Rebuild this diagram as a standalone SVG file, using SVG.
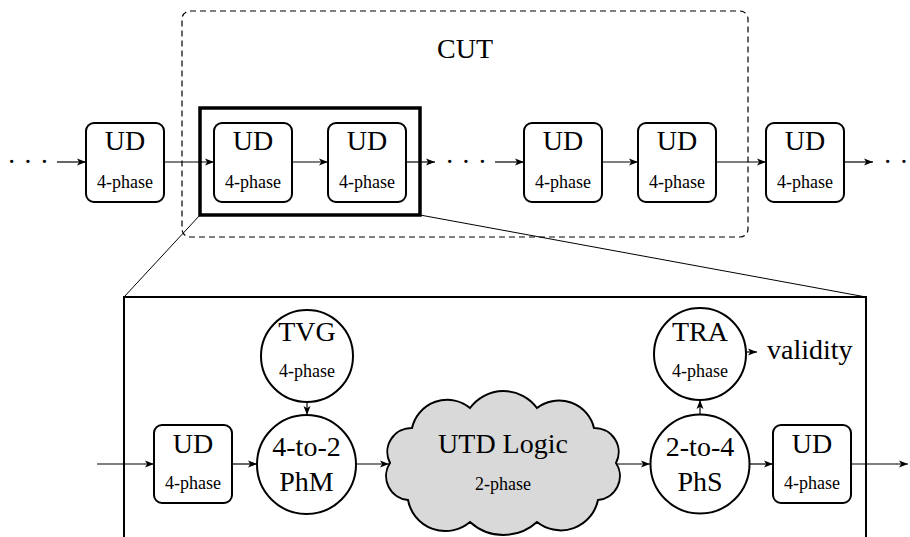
<svg xmlns="http://www.w3.org/2000/svg" width="910" height="537" viewBox="0 0 910 537" font-family="'Liberation Serif', 'DejaVu Serif', serif">
  <defs>
    <marker id="arr" viewBox="0 0 10 8" refX="9" refY="4" markerWidth="10" markerHeight="8" markerUnits="userSpaceOnUse" orient="auto">
      <path d="M0,0.5 L9,4 L0,7.5 L2.2,4 Z" fill="#000"/>
    </marker>
  </defs>
  <style>
    text { fill: #000; text-anchor: middle; }
    .big { font-size: 28px; }
    .small { font-size: 18px; }
    .box { fill: #fff; stroke: #000; stroke-width: 2; }
    .circ { fill: #fff; stroke: #000; stroke-width: 2; }
    .wire { fill: none; stroke: #000; stroke-width: 1.2; }
    .arrow { marker-end: url(#arr); }
    .dots { font-size: 28px; text-anchor: start; }
  </style>

  <rect width="910" height="537" fill="#fff"/>

  <!-- circuit-under-test boundary -->
  <g id="cut">
    <rect x="182" y="11" width="566" height="226" rx="8" fill="none" stroke="#000" stroke-width="1.2" stroke-dasharray="6,4"/>
    <text class="big" x="465" y="58">CUT</text>
  </g>

  <!-- magnified region and its projection lines -->
  <g id="zoom">
    <rect x="200" y="108" width="220" height="107" fill="none" stroke="#000" stroke-width="3.5"/>
    <path d="M200,215 L124,297 M420,215 L866,297" fill="none" stroke="#000" stroke-width="1"/>
    <path d="M124,540 L124,297 L866,297 L866,540" fill="none" stroke="#000" stroke-width="2"/>
  </g>

  <!-- connectors -->
  <g id="connectors">
    <!-- top pipeline -->
    <path class="wire arrow" d="M57,162 L86,162"/>
    <path class="wire arrow" d="M164,162 L214,162"/>
    <path class="wire arrow" d="M292,162 L328,162"/>
    <path class="wire arrow" d="M406,162 L435,162"/>
    <path class="wire arrow" d="M495,162 L524,162"/>
    <path class="wire arrow" d="M602,162 L638,162"/>
    <path class="wire arrow" d="M716,162 L766,162"/>
    <path class="wire arrow" d="M844,162 L873,162"/>
    <!-- detailed stage -->
    <path class="wire arrow" d="M97,464 L154,464"/>
    <path class="wire arrow" d="M232,464 L257,464"/>
    <path class="wire arrow" d="M356,464 L389,464"/>
    <path class="wire arrow" d="M617,464 L650,464"/>
    <path class="wire arrow" d="M749.5,464 L773,464"/>
    <path class="wire arrow" d="M851,464 L908,464"/>
    <path class="wire arrow" d="M307,402 L307,415"/>
    <path class="wire arrow" d="M700,414.5 L700,400"/>
    <path class="wire arrow" d="M746,352 L757,352"/>
  </g>

  <!-- ellipsis marks in the pipeline -->
  <g id="ellipses">
    <text class="dots" x="7" y="171">· · ·</text>
    <text class="dots" x="445" y="171">· · ·</text>
    <text class="dots" x="883" y="171">· ·</text>
  </g>

  <!-- top row of UD stages -->
  <g id="ud1"><rect class="box" x="86" y="123" width="78" height="79" rx="8"/><text class="big" x="125" y="150">UD</text><text class="small" x="125" y="188">4-phase</text></g>
  <g id="ud2"><rect class="box" x="214" y="123" width="78" height="79" rx="8"/><text class="big" x="253" y="150">UD</text><text class="small" x="253" y="188">4-phase</text></g>
  <g id="ud3"><rect class="box" x="328" y="123" width="78" height="79" rx="8"/><text class="big" x="367" y="150">UD</text><text class="small" x="367" y="188">4-phase</text></g>
  <g id="ud4"><rect class="box" x="524" y="123" width="78" height="79" rx="8"/><text class="big" x="563" y="150">UD</text><text class="small" x="563" y="188">4-phase</text></g>
  <g id="ud5"><rect class="box" x="638" y="123" width="78" height="79" rx="8"/><text class="big" x="677" y="150">UD</text><text class="small" x="677" y="188">4-phase</text></g>
  <g id="ud6"><rect class="box" x="766" y="123" width="78" height="79" rx="8"/><text class="big" x="805" y="150">UD</text><text class="small" x="805" y="188">4-phase</text></g>

  <!-- detailed stage -->
  <g id="ud-in"><rect class="box" x="154" y="425" width="78" height="78" rx="8"/><text class="big" x="193" y="453">UD</text><text class="small" x="193" y="489">4-phase</text></g>
  <g id="tvg"><circle class="circ" cx="307" cy="356" r="46"/><text class="big" x="307" y="341">TVG</text><text class="small" x="307" y="377">4-phase</text></g>
  <g id="phm"><circle class="circ" cx="306.5" cy="464.5" r="49.5"/><text class="big" x="306.5" y="456">4-to-2</text><text class="big" x="306.5" y="491">PhM</text></g>
  <g id="utd">
    <path d="M470,408 A41.5,41.5 0 0 1 537,408 A36,36 0 0 1 594,428 A24,24 0 0 1 616,463 A24,24 0 0 1 598,500 A38,38 0 0 1 537,522 A49.7,49.7 0 0 1 470,522 A38,38 0 0 1 408,500 A24,24 0 0 1 390,463 A24,24 0 0 1 412,428 A36,36 0 0 1 470,408 Z" fill="#d9d9d9" stroke="#000" stroke-width="2"/>
    <text class="big" x="503" y="453">UTD Logic</text>
    <text class="small" x="503" y="490">2-phase</text>
  </g>
  <g id="phs"><circle class="circ" cx="700" cy="464" r="49.5"/><text class="big" x="700" y="456">2-to-4</text><text class="big" x="700" y="491">PhS</text></g>
  <g id="tra"><circle class="circ" cx="700" cy="354" r="46"/><text class="big" x="700" y="341">TRA</text><text class="small" x="700" y="377">4-phase</text></g>
  <g id="validity"><text class="big" x="767" y="359" style="text-anchor:start">validity</text></g>
  <g id="ud-out"><rect class="box" x="773" y="425" width="78" height="78" rx="8"/><text class="big" x="812" y="453">UD</text><text class="small" x="812" y="489">4-phase</text></g>
</svg>
